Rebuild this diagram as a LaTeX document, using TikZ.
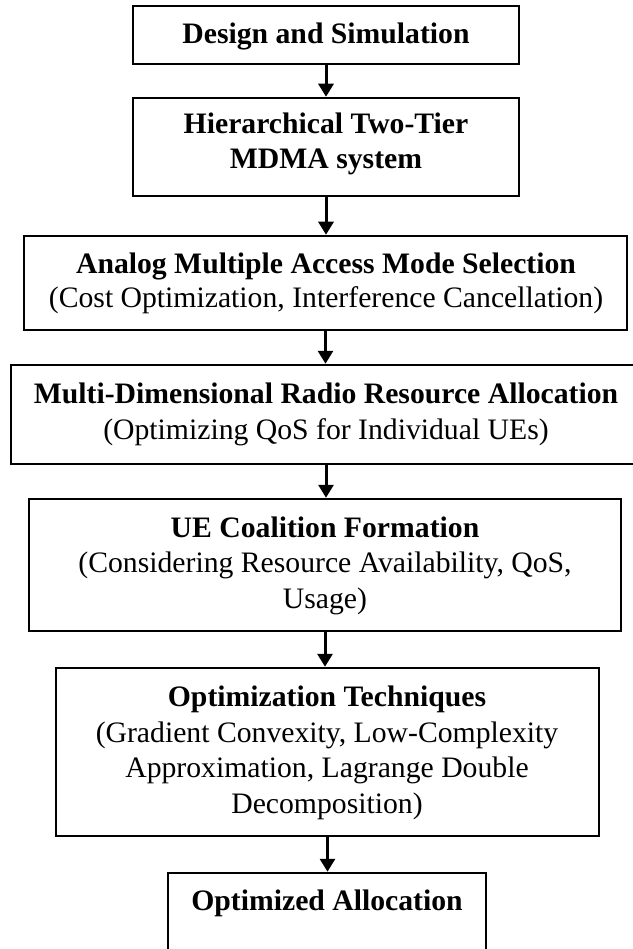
\documentclass[tikz,border=0pt]{standalone}
\usepackage{fontspec}
\setmainfont{Liberation Serif}
\usetikzlibrary{arrows.meta}
\begin{document}
\begin{tikzpicture}[x=1pt,y=-1pt,
  box/.style 2 args={draw, line width=2.5pt, inner sep=0pt, minimum width=#1, minimum height=#2},
  txt/.style={inner sep=0pt, align=center, anchor=base, font=\fontsize{29.7}{35.5}\selectfont},
  arr/.style={line width=3pt, -{Triangle[width=15pt,length=13pt]}}]
\useasboundingbox (0,0) rectangle (632,949);
\node[box={386pt}{58pt}]  (b1) at (326,35) {};
\node[box={386pt}{98pt}]  (b2) at (326,147) {};
\node[box={603pt}{94pt}]  (b3) at (325.5,283) {};
\node[box={630pt}{99pt}]  (b4) at (326,414.5) {};
\node[box={592pt}{132pt}] (b5) at (325,565) {};
\node[box={543pt}{168pt}] (b6) at (327.5,752) {};
\node[box={318pt}{82pt}]  (b7) at (327,914) {};
% multi-line nodes: base anchor is the baseline of the last line
\node[txt] (t1) at (326,44) {\textbf{Design and Simulation}};
\node[txt] (t2) at (326,169) {\textbf{Hierarchical Two-Tier}\\\textbf{MDMA system}};
\node[txt] (t3) at (326,307) {\textbf{Analog Multiple Access Mode Selection}\\[-2.5pt](Cost Optimization, Interference Cancellation)};
\node[txt] (t4) at (326,439) {\textbf{Multi-Dimensional Radio Resource Allocation}\\(Optimizing QoS for Individual UEs)};
\node[txt] (t5) at (325,608) {\textbf{UE Coalition Formation}\\(Considering Resource Availability, QoS,\\Usage)};
\node[txt] (t6) at (327,813) {\textbf{Optimization Techniques}\\(Gradient Convexity, Low-Complexity\\Approximation, Lagrange Double\\Decomposition)};
\node[txt] (t7) at (327,910) {\textbf{Optimized Allocation}};
\draw[arr] (b1.south) -- (b1.south |- b2.north);
\draw[arr] (b2.south) -- (b2.south |- b3.north);
\draw[arr] (b3.south) -- (b3.south |- b4.north);
\draw[arr] (b4.south) -- (b4.south |- b5.north);
\draw[arr] (b5.south) -- (b5.south |- b6.north);
\draw[arr] (b6.south) -- (b6.south |- b7.north);
\end{tikzpicture}
\end{document}
